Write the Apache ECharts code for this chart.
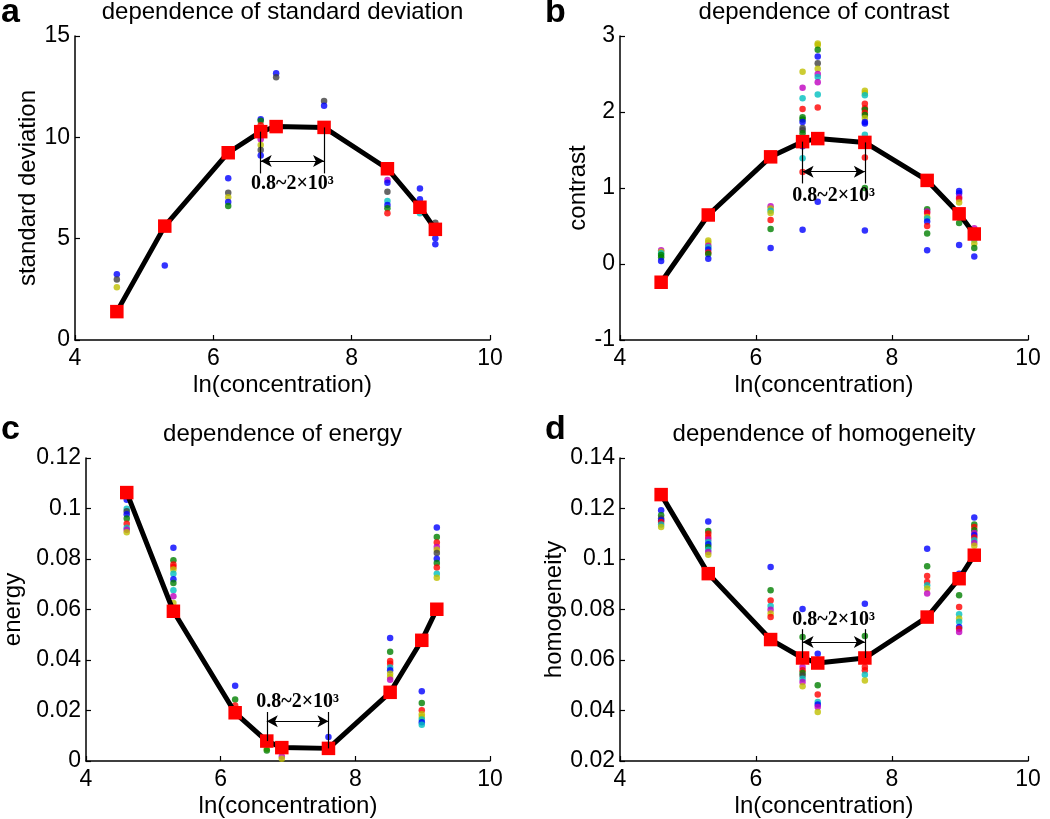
<!DOCTYPE html>
<html>
<head>
<meta charset="utf-8">
<script src="https://cdn.jsdelivr.net/npm/echarts@6/dist/echarts.min.js"></script>
<style>
html,body{margin:0;padding:0;background:#fff;}
#chart{width:1050px;height:819px;}
</style>
</head>
<body>
<div id="chart"></div>
<script>
// ---- data ----
const lnConc = [4.605, 5.298, 6.215, 6.685, 6.908, 7.601, 8.517, 8.987, 9.210];

const meanStd = [1.40, 5.62, 9.24, 10.28, 10.53, 10.49, 8.45, 6.55, 5.46];
const meanContrast = [-0.24, 0.645, 1.41, 1.61, 1.65, 1.60, 1.10, 0.66, 0.395];
const meanEnergy = [0.1063, 0.0593, 0.0191, 0.0079, 0.0053, 0.0050, 0.0272, 0.0478, 0.0601];
const meanHomog = [0.1255, 0.0942, 0.0681, 0.0608, 0.0588, 0.0608, 0.0770, 0.0922, 0.1015];

// individual samples: [concentration index, value, sample group]
const dotsStd = [
  [0,3.24,'b'],[0,2.99,'k'],[0,2.60,'y'],
  [1,3.68,'b'],
  [2,7.98,'b'],[2,7.27,'k'],[2,7.04,'y'],[2,6.81,'b'],[2,6.61,'g'],
  [3,10.89,'b'],[3,10.82,'g'],[3,10.6,'r'],[3,9.90,'m'],[3,9.62,'y'],[3,9.38,'k'],[3,9.10,'b'],
  [4,13.16,'b'],[4,12.96,'k'],
  [5,11.79,'k'],[5,11.56,'b'],
  [6,7.89,'m'],[6,7.76,'b'],[6,7.32,'k'],[6,6.86,'c'],[6,6.66,'b'],[6,6.50,'g'],[6,6.25,'r'],
  [7,7.47,'b'],[7,6.94,'b'],[7,6.25,'c'],
  [8,5.79,'k'],[8,5.02,'b'],[8,4.72,'b']
];
const dotsContrast = [
  [0,0.18,'m'],[0,0.16,'y'],[0,0.14,'c'],[0,0.12,'g'],[0,0.09,'g'],[0,0.04,'b'],
  [1,0.31,'y'],[1,0.28,'y'],[1,0.24,'m'],[1,0.22,'c'],[1,0.19,'b'],[1,0.15,'r'],[1,0.13,'g'],[1,0.07,'b'],
  [2,0.76,'m'],[2,0.73,'y'],[2,0.70,'c'],[2,0.67,'y'],[2,0.58,'r'],[2,0.46,'g'],[2,0.21,'b'],
  [3,2.53,'y'],[3,2.32,'m'],[3,2.18,'c'],[3,2.04,'r'],[3,1.93,'g'],[3,1.90,'g'],[3,1.87,'b'],[3,1.79,'k'],[3,1.76,'k'],[3,1.72,'g'],[3,1.55,'b'],[3,1.39,'c'],[3,1.21,'r'],[3,0.45,'b'],
  [4,2.90,'y'],[4,2.88,'y'],[4,2.82,'g'],[4,2.73,'b'],[4,2.64,'k'],[4,2.57,'y'],[4,2.50,'m'],[4,2.46,'c'],[4,2.39,'m'],[4,2.23,'c'],[4,2.06,'r'],[4,0.82,'b'],
  [5,2.28,'y'],[5,2.25,'y'],[5,2.22,'c'],[5,2.11,'r'],[5,2.05,'r'],[5,2.03,'g'],[5,1.99,'r'],[5,1.96,'g'],[5,1.92,'y'],[5,1.87,'b'],[5,1.85,'b'],[5,1.70,'c'],[5,1.40,'r'],[5,1.00,'g'],[5,0.44,'b'],
  [6,0.72,'g'],[6,0.69,'m'],[6,0.67,'r'],[6,0.62,'y'],[6,0.60,'c'],[6,0.56,'b'],[6,0.50,'r'],[6,0.40,'g'],[6,0.18,'b'],
  [7,0.96,'b'],[7,0.93,'b'],[7,0.88,'m'],[7,0.86,'r'],[7,0.81,'y'],[7,0.54,'g'],[7,0.25,'b'],
  [8,0.47,'m'],[8,0.32,'c'],[8,0.27,'y'],[8,0.21,'g'],[8,0.10,'b']
];
const dotsEnergy = [
  [0,0.1035,'b'],[0,0.0999,'c'],[0,0.0989,'k'],[0,0.0977,'b'],[0,0.0960,'g'],[0,0.0940,'r'],[0,0.0924,'c'],[0,0.0916,'m'],[0,0.0906,'y'],
  [1,0.0845,'b'],[1,0.0795,'g'],[1,0.0778,'r'],[1,0.0768,'r'],[1,0.0758,'y'],[1,0.0742,'c'],[1,0.0720,'b'],[1,0.0705,'g'],[1,0.0676,'c'],[1,0.0652,'m'],[1,0.0626,'y'],
  [2,0.0298,'b'],[2,0.0244,'g'],[2,0.0220,'r'],
  [3,0.0049,'y'],[3,0.0042,'g'],
  [4,0.0018,'m'],[4,0.0009,'y'],
  [5,0.0095,'b'],
  [6,0.0487,'b'],[6,0.0433,'g'],[6,0.0396,'r'],[6,0.0385,'r'],[6,0.0370,'c'],[6,0.0359,'b'],[6,0.0346,'y'],[6,0.0333,'y'],[6,0.0322,'m'],
  [7,0.0276,'b'],[7,0.0230,'g'],[7,0.0201,'r'],[7,0.0185,'y'],[7,0.0174,'y'],[7,0.0164,'c'],[7,0.0153,'b'],[7,0.0144,'c'],
  [8,0.0925,'b'],[8,0.0887,'g'],[8,0.0865,'r'],[8,0.0848,'m'],[8,0.0837,'y'],[8,0.0824,'k'],[8,0.0801,'b'],[8,0.0784,'g'],[8,0.0766,'r'],[8,0.0742,'c'],[8,0.0726,'y']
];
const dotsHomog = [
  [0,0.1193,'b'],[0,0.1173,'g'],[0,0.1160,'k'],[0,0.1153,'b'],[0,0.1147,'r'],[0,0.1137,'c'],[0,0.1127,'y'],
  [1,0.1149,'b'],[1,0.1111,'g'],[1,0.1100,'r'],[1,0.1087,'r'],[1,0.1077,'m'],[1,0.1067,'c'],[1,0.1058,'b'],[1,0.1048,'g'],[1,0.1037,'c'],[1,0.1028,'m'],[1,0.1017,'y'],
  [2,0.0968,'b'],[2,0.0876,'g'],[2,0.0836,'r'],[2,0.0814,'c'],[2,0.0799,'m'],[2,0.0784,'y'],[2,0.0770,'r'],
  [3,0.0802,'b'],[3,0.0691,'g'],[3,0.0572,'m'],[3,0.0559,'r'],[3,0.0549,'g'],[3,0.0539,'k'],[3,0.0526,'c'],[3,0.0513,'m'],[3,0.0496,'y'],
  [4,0.0625,'b'],[4,0.0500,'g'],[4,0.0463,'r'],[4,0.0434,'c'],[4,0.0424,'b'],[4,0.0414,'m'],[4,0.0394,'y'],
  [5,0.0823,'b'],[5,0.0695,'g'],[5,0.0572,'r'],[5,0.0559,'r'],[5,0.0542,'c'],[5,0.0519,'y'],
  [6,0.1041,'b'],[6,0.0971,'g'],[6,0.0933,'r'],[6,0.0909,'r'],[6,0.0896,'c'],[6,0.0883,'y'],[6,0.0863,'m'],
  [7,0.0942,'b'],[7,0.0856,'g'],[7,0.0810,'r'],[7,0.0781,'c'],[7,0.0764,'y'],[7,0.0751,'c'],[7,0.0731,'b'],[7,0.0724,'r'],[7,0.0711,'m'],
  [8,0.1164,'b'],[8,0.1137,'g'],[8,0.1127,'r'],[8,0.1114,'g'],[8,0.1103,'m'],[8,0.1094,'b'],[8,0.1085,'r'],[8,0.1074,'c'],[8,0.1063,'m'],[8,0.1052,'y']
];

const panelTitles = ['dependence of standard deviation', 'dependence of contrast', 'dependence of energy', 'dependence of homogeneity'];
const panelLetters = ['a', 'b', 'c', 'd'];
const yNames = ['standard deviation', 'contrast', 'energy', 'homogeneity'];
const xName = 'ln(concentration)';
const rangeText = '0.8~2×10³';

// ---- styling / layout ----
const colorMap = {b:'#0000ff', g:'#008000', r:'#ff0000', c:'#00bfbf', m:'#bf00bf', y:'#bfbf00', k:'#404040'};
const SANS = '"Liberation Sans", Arial, sans-serif';
const SERIF = '"Liberation Serif", "Times New Roman", serif';

const grids = [
  {left:75, top:36, width:415, height:304},
  {left:620, top:36, width:408, height:304},
  {left:75, top:458, width:415, height:303},
  {left:620, top:458, width:408, height:303}
];
const yRanges = [
  {min:0, max:15, interval:5},
  {min:-1, max:3, interval:1},
  {min:0, max:0.12, interval:0.02},
  {min:0.02, max:0.14, interval:0.02}
];
const yNameGaps = [32, 30, 61, 54];
// annotation (data coords)
const annot = [
  {bottom:8.22, arrow:8.83, text:7.72},
  {bottom:1.06, arrow:1.215, text:0.90},
  {bottom:null, top:0.0194, arrow:0.0157, text:0.0236},
  {bottom:0.0722, arrow:0.0671, text:0.0758}
];

const means = [meanStd, meanContrast, meanEnergy, meanHomog];
const dots = [dotsStd, dotsContrast, dotsEnergy, dotsHomog];

const axisBase = {
  axisLine:{show:true, onZero:false, lineStyle:{color:'#000', width:1.5}},
  axisTick:{show:true, inside:true, length:5, lineStyle:{color:'#000', width:1.2}},
  splitLine:{show:false},
  nameTextStyle:{fontSize:24, color:'#000', fontFamily:SANS},
};

const xAxes = grids.map((g, i) => Object.assign({}, axisBase, {
  type:'value', gridIndex:i, min:4, max:10, interval:2,
  name:xName, nameLocation:'middle', nameGap:33,
  axisLabel:{fontSize:23, color:'#000', fontFamily:SANS, margin:7}
}));
const yAxes = grids.map((g, i) => Object.assign({}, axisBase, {
  type:'value', gridIndex:i, min:yRanges[i].min, max:yRanges[i].max, interval:yRanges[i].interval,
  name:yNames[i], nameLocation:'middle', nameGap:yNameGaps[i], nameRotate:90,
  axisLabel:{fontSize:23, color:'#000', fontFamily:SANS, margin:5}
}));

const titles = [];
grids.forEach((g, i) => {
  titles.push({
    text: panelTitles[i], left: g.left + g.width / 2, top: i < 2 ? 0 : 422, textAlign:'center', padding:0,
    textStyle:{fontSize:24, fontWeight:'normal', color:'#000', fontFamily:SANS}
  });
  titles.push({
    text: panelLetters[i], left: i % 2 === 0 ? 1 : 545, top: i < 2 ? -4 : 413, padding:0,
    textStyle:{fontSize:34, fontWeight:'bold', color:'#000', fontFamily:SANS}
  });
});

const series = [];
grids.forEach((g, i) => {
  series.push({
    type:'scatter', xAxisIndex:i, yAxisIndex:i, symbol:'circle', symbolSize:6.5, z:2,
    data: dots[i].map(d => ({value:[lnConc[d[0]], d[1]], itemStyle:{color:colorMap[d[2]]}})),
    silent:true
  });
  const a = annot[i];
  const x1 = lnConc[3], x2 = lnConc[5];
  const m = means[i];
  let vLines;
  if (a.bottom !== null) {
    vLines = [
      [{coord:[x1, m[3]], symbol:'none'}, {coord:[x1, a.bottom], symbol:'none'}],
      [{coord:[x2, m[5]], symbol:'none'}, {coord:[x2, a.bottom], symbol:'none'}]
    ];
  } else {
    vLines = [
      [{coord:[x1, a.top], symbol:'none'}, {coord:[x1, m[3]], symbol:'none'}],
      [{coord:[x2, a.top], symbol:'none'}, {coord:[x2, m[5]], symbol:'none'}]
    ];
  }
  series.push({
    type:'line', xAxisIndex:i, yAxisIndex:i, z:3,
    data: lnConc.map((x, k) => [x, m[k]]),
    symbol:'rect', symbolSize:13.5, showSymbol:true,
    itemStyle:{color:'#ff0000'},
    lineStyle:{color:'#000', width:5},
    silent:true,
    markLine:{
      silent:true, animation:false, symbolSize:[9, 11],
      label:{show:false},
      lineStyle:{color:'#000', width:1.2, type:'solid'},
      emphasis:{disabled:true},
      data: vLines.concat([
        [{coord:[x1, a.arrow], symbol:'arrow'}, {coord:[x2, a.arrow], symbol:'arrow'}]
      ])
    },
    markPoint:{
      silent:true, animation:false, symbol:'circle', symbolSize:0,
      label:{show:true, position:'inside', formatter:rangeText, color:'#000', fontSize:20, fontWeight:'bold', fontFamily:SERIF},
      data:[{coord:[(x1 + x2) / 2, a.text]}]
    }
  });
});

const chart = echarts.init(document.getElementById('chart'), null, {renderer:'canvas'});
chart.setOption({
  animation:false,
  backgroundColor:'#fff',
  title: titles,
  grid: grids,
  xAxis: xAxes,
  yAxis: yAxes,
  series: series
});
</script>
</body>
</html>
